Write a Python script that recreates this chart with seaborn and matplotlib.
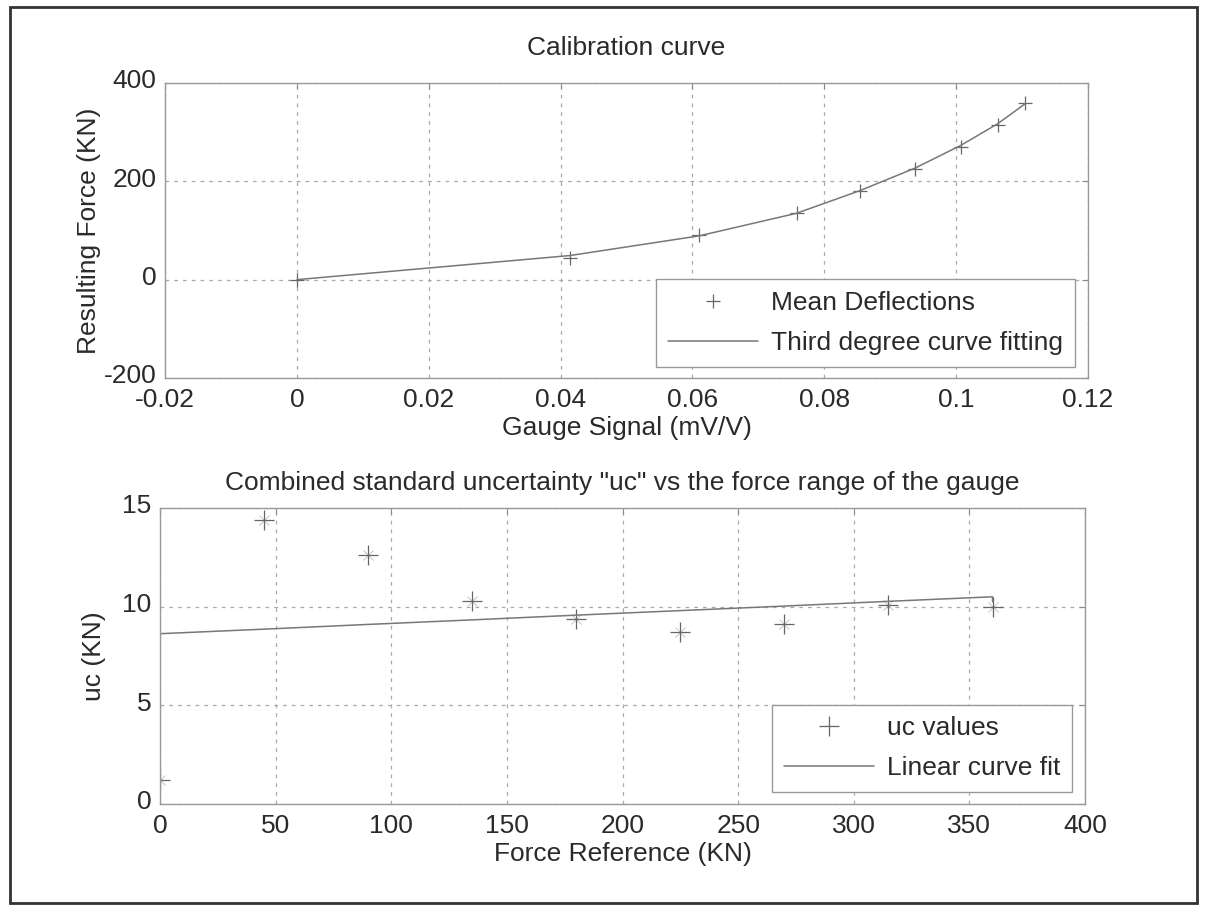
import matplotlib
matplotlib.use("Agg")
import matplotlib.pyplot as plt
import matplotlib.patches as mpatches
import matplotlib.transforms as mtransforms
import seaborn as sns
import pandas as pd

# top panel: calibration
gauge_signal = [0.0, 0.0414, 0.0610, 0.0758, 0.0854, 0.0938, 0.1007, 0.1063, 0.1105]
mean_force = [0, 45, 90, 135, 180, 225, 270, 315, 360]
fit_force = [0, 49, 89, 135, 181, 227, 273, 317, 358]

# bottom panel: uncertainty
force_ref = [0, 45, 90, 135, 180, 225, 270, 315, 360]
uc_values = [1.2, 14.4, 12.6, 10.3, 9.35, 8.7, 9.1, 10.1, 10.0]
lin_x = [0, 45, 90, 135, 180, 225, 270, 315, 360, 360]
lin_fit = [8.63, 8.86, 9.10, 9.33, 9.57, 9.80, 10.03, 10.27, 10.50, 10.25]

top_xticks = [-0.02, 0, 0.02, 0.04, 0.06, 0.08, 0.1, 0.12]
top_xlabels = ["-0.02", "0", "0.02", "0.04", "0.06", "0.08", "0.1", "0.12"]
top_yticks = [-200, 0, 200, 400]
bot_xticks = [0, 50, 100, 150, 200, 250, 300, 350, 400]
bot_yticks = [0, 5, 10, 15]

sns.set_style("white")
plt.rcParams['font.family'] = ['Liberation Sans', 'DejaVu Sans']
plt.rcParams['axes.unicode_minus'] = False
txt = '#2a2a2a'
fs = 19

fig = plt.figure(figsize=(12.08, 9.06), dpi=100)
ax1 = fig.add_axes([0.1366, 0.5828, 0.764, 0.3256])
ax2 = fig.add_axes([0.1325, 0.1126, 0.7657, 0.3267])

# frame round the whole picture
fig.patches.append(mpatches.Rectangle((0.008, 0.003), 0.983, 0.989, transform=fig.transFigure,
                                      fill=False, edgecolor='#333333', linewidth=2))

top_df = pd.DataFrame({'signal': gauge_signal, 'force': mean_force, 'fit': fit_force})
bot_df = pd.DataFrame({'ref': force_ref, 'uc': uc_values})
lin_df = pd.DataFrame({'ref': lin_x, 'fit': lin_fit})

sns.lineplot(data=top_df, x='signal', y='force', ax=ax1, linestyle='none', marker='+',
             markersize=10, markeredgewidth=0.9, color='#666666', markeredgecolor='#666666',
             label='Mean Deflections')
sns.lineplot(data=top_df, x='signal', y='fit', ax=ax1, sort=False, color='#777777',
             linewidth=1.1, label='Third degree curve fitting')

ax2.plot(bot_df['ref'], bot_df['uc'], linestyle='none', marker='x', markersize=7,
         markeredgewidth=0.6, color='#bbbbbb')
sns.lineplot(data=bot_df, x='ref', y='uc', ax=ax2, linestyle='none', marker='+',
             markersize=15, markeredgewidth=0.9, color='#666666', markeredgecolor='#666666',
             label='uc values')
sns.lineplot(data=lin_df, x='ref', y='fit', ax=ax2, sort=False, estimator=None, color='#777777',
             linewidth=1.1, label='Linear curve fit')

ax1.set_xlim(-0.02, 0.12)
ax1.set_ylim(-200, 400)
ax1.set_xticks(top_xticks)
ax1.set_xticklabels(top_xlabels)
ax1.set_yticks(top_yticks)
ax1.set_title('Calibration curve', fontsize=fs, color=txt, pad=20)
ax1.set_xlabel('Gauge Signal (mV/V)', fontsize=fs, color=txt, labelpad=3)
ax1.set_ylabel('Resulting Force (KN)', fontsize=fs, color=txt, labelpad=2)

ax2.set_xlim(0, 400)
ax2.set_ylim(0, 15)
ax2.set_xticks(bot_xticks)
ax2.set_yticks(bot_yticks)
ax2.set_title('Combined standard uncertainty "uc" vs the force range of the gauge',
              fontsize=fs, color=txt, pad=13)
ax2.set_xlabel('Force Reference (KN)', fontsize=fs, color=txt, labelpad=3)
ax2.set_ylabel('uc (KN)', fontsize=fs, color=txt, labelpad=12)

lift = mtransforms.ScaledTranslation(0, 4 / 100, fig.dpi_scale_trans)
for ax in (ax1, ax2):
    ax.grid(True, linestyle=(0, (3, 4)), color='#aaaaaa', linewidth=0.9)
    ax.tick_params(labelsize=fs, colors='#888888', labelcolor=txt, direction='in', length=4,
                   top=True, right=True, pad=6)
    ax.tick_params(axis='x', pad=7)
    for lab in ax.get_yticklabels():
        lab.set_transform(lab.get_transform() + lift)
    for sp in ax.spines.values():
        sp.set_color('#999999')
        sp.set_linewidth(1.0)

leg1 = ax1.legend(loc='lower right', bbox_to_anchor=(0.986, 0.037), fontsize=fs,
                  frameon=True, fancybox=False, framealpha=1, edgecolor='#999999',
                  handlelength=3.4, borderpad=0.45, labelspacing=0.6, handletextpad=0.5,
                  borderaxespad=0)
leg2 = ax2.legend(loc='lower right', bbox_to_anchor=(0.986, 0.04), fontsize=fs,
                  frameon=True, fancybox=False, framealpha=1, edgecolor='#999999',
                  handlelength=3.4, borderpad=0.45, labelspacing=0.6, handletextpad=0.5,
                  borderaxespad=0)
for leg in (leg1, leg2):
    leg.get_frame().set_linewidth(1.0)
    for t in leg.get_texts():
        t.set_color(txt)

fig.savefig('out.png', dpi=100, facecolor='white')
plt.close(fig)
